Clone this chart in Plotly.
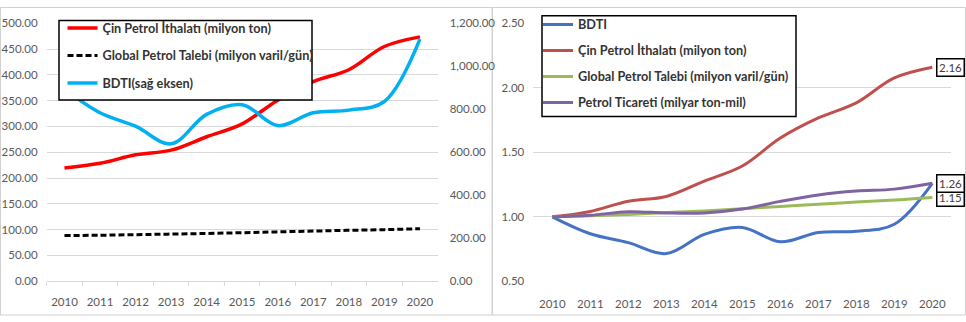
import plotly.graph_objects as go

# Years on the category axis
years = [str(y) for y in range(2010, 2021)]

# Left panel: absolute values
cin_ithalat = [219.3, 228.5, 245.0, 254.0, 280.0, 305.0, 351.0, 387.0, 410.0, 455.0, 473.7]   # milyon ton
kuresel_talep = [88.4, 89.1, 90.1, 91.3, 92.5, 94.0, 95.6, 97.1, 98.6, 99.9, 101.7]          # milyon varil/gün
bdti = [894, 784, 721, 639, 776, 821, 724, 784, 796, 836, 1126]                               # sağ eksen

# Right panel: indices (2010 = 1.00)
bdti_idx = [1.00, 0.869, 0.80, 0.715, 0.864, 0.918, 0.807, 0.879, 0.889, 0.943, 1.26]
cin_idx = [1.00, 1.042, 1.121, 1.158, 1.277, 1.394, 1.611, 1.767, 1.884, 2.077, 2.16]
talep_idx = [1.00, 1.008, 1.019, 1.033, 1.046, 1.063, 1.081, 1.098, 1.115, 1.13, 1.15]
ticaret_idx = [1.00, 1.012, 1.04, 1.03, 1.03, 1.06, 1.12, 1.17, 1.20, 1.215, 1.26]

W, H = 966, 322
FONT = "Lato"
TICK = "#595959"
GRID = "#d9d9d9"


def px_x(p):
    return p / W


def px_y(p):
    return 1 - p / H


fig = go.Figure()

# ---- left panel ----
fig.add_trace(go.Scatter(x=years, y=cin_ithalat, name="Çin Petrol İthalatı (milyon ton)",
                         mode="lines", line=dict(color="#ff0000", width=3.5, shape="spline"),
                         xaxis="x", yaxis="y", legend="legend", legendgroup="a"))
fig.add_trace(go.Scatter(x=years, y=kuresel_talep, name="Global Petrol Talebi (milyon varil/gün)",
                         mode="lines", line=dict(color="#000000", width=3, dash="6px,3px", shape="spline"),
                         xaxis="x", yaxis="y", legend="legend", legendgroup="b"))
fig.add_trace(go.Scatter(x=years, y=bdti, name="BDTI(sağ eksen)",
                         mode="lines", line=dict(color="#00b0f0", width=3.5, shape="spline"),
                         xaxis="x", yaxis="y2", legend="legend", legendgroup="c"))

# ---- right panel ----
right_series = [
    ("BDTI", bdti_idx, "#4472c4"),
    ("Çin Petrol İthalatı (milyon ton)", cin_idx, "#c0504d"),
    ("Global Petrol Talebi (milyon varil/gün)", talep_idx, "#9bbb59"),
    ("Petrol Ticareti (milyar ton-mil)", ticaret_idx, "#8064a2"),
]
for i, (name, vals, col) in enumerate(right_series):
    fig.add_trace(go.Scatter(x=years, y=vals, name=name, mode="lines",
                             line=dict(color=col, width=3, shape="spline"),
                             xaxis="x2", yaxis="y3", legend="legend2", legendgroup=f"r{i}"))

# End-of-line value labels (last category index)
last = len(years) - 1
for vals in (talep_idx, ticaret_idx, cin_idx):
    fig.add_annotation(x=last, y=vals[-1], xref="x2", yref="y3",
                       text=f"{vals[-1]:.2f}", showarrow=False,
                       xanchor="left", yanchor="middle", xshift=4,
                       bgcolor="white", bordercolor="black", borderwidth=1.5, borderpad=1.5,
                       font=dict(family=FONT, size=11.5, color="#404040"))

# Panel frames
fig.add_shape(type="rect", xref="paper", yref="paper",
              x0=px_x(0.5), x1=px_x(492), y0=px_y(321), y1=px_y(0.5),
              line=dict(color="#d0d0d0", width=1), layer="below")
fig.add_shape(type="rect", xref="paper", yref="paper",
              x0=px_x(492.5), x1=px_x(965.5), y0=px_y(321), y1=px_y(0.5),
              line=dict(color="#d0d0d0", width=1), layer="below")

# Legend frames (white boxes drawn over the lines; legend entries sit on top)
fig.add_shape(type="rect", xref="paper", yref="paper",
              x0=px_x(59), x1=px_x(312), y0=px_y(97), y1=px_y(14),
              line=dict(color="black", width=1.5), fillcolor="white", layer="above")
fig.add_shape(type="rect", xref="paper", yref="paper",
              x0=px_x(542), x1=px_x(796), y0=px_y(114), y1=px_y(9),
              line=dict(color="black", width=1.5), fillcolor="white", layer="above")

tickfont = dict(family=FONT, size=11.5, color=TICK)
legfont = dict(family=FONT, size=12.7, color="#333333", weight="bold")

fig.update_layout(
    width=W, height=H,
    margin=dict(l=0, r=0, t=0, b=0),
    paper_bgcolor="white", plot_bgcolor="white",
    showlegend=True,
    xaxis=dict(domain=[px_x(46.7), px_x(437.7)], type="category", range=[-0.5, 10.5],
               showgrid=False, showline=True, linecolor=GRID, linewidth=1,
               ticks="outside", tickson="boundaries", ticklen=4, tickcolor=GRID,
               tickfont=tickfont, tickangle=0, ticklabelstandoff=10, anchor="y"),
    yaxis=dict(domain=[px_y(285.7), px_y(16.7)], range=[0, 500.5], dtick=50, tick0=0,
               tickformat=".2f", showgrid=True, gridcolor=GRID, gridwidth=1,
               zeroline=False, showline=False, tickfont=tickfont, ticklabelstandoff=8,
               anchor="x"),
    yaxis2=dict(overlaying="y", side="right", range=[0, 1201.2], dtick=200, tick0=0,
                tickformat=",.2f", showgrid=False, zeroline=False, showline=False,
                tickfont=tickfont, ticklabelstandoff=11, anchor="x"),
    xaxis2=dict(domain=[px_x(533.3), px_x(951.3)], type="category", range=[-0.5, 10.5],
                showgrid=False, showline=False, ticks="", tickfont=tickfont, tickangle=0,
                ticklabelstandoff=14, anchor="y3"),
    yaxis3=dict(domain=[px_y(286), px_y(16.7)], range=[0.499, 2.503], dtick=0.5, tick0=0.5,
                tickformat=".2f", showgrid=True, gridcolor=GRID, gridwidth=1,
                zeroline=False, showline=False, tickfont=tickfont, ticklabelstandoff=8,
                anchor="x2"),
    legend=dict(x=px_x(62.5), y=px_y(6.5), xanchor="left", yanchor="top",
                bgcolor="rgba(0,0,0,0)", borderwidth=0,
                font=legfont, tracegroupgap=8, traceorder="grouped", itemwidth=30),
    legend2=dict(x=px_x(538), y=px_y(2.8), xanchor="left", yanchor="top",
                 bgcolor="rgba(0,0,0,0)", borderwidth=0,
                 font=legfont, tracegroupgap=6.5, traceorder="grouped", itemwidth=30),
)

fig.write_html("out.html")
